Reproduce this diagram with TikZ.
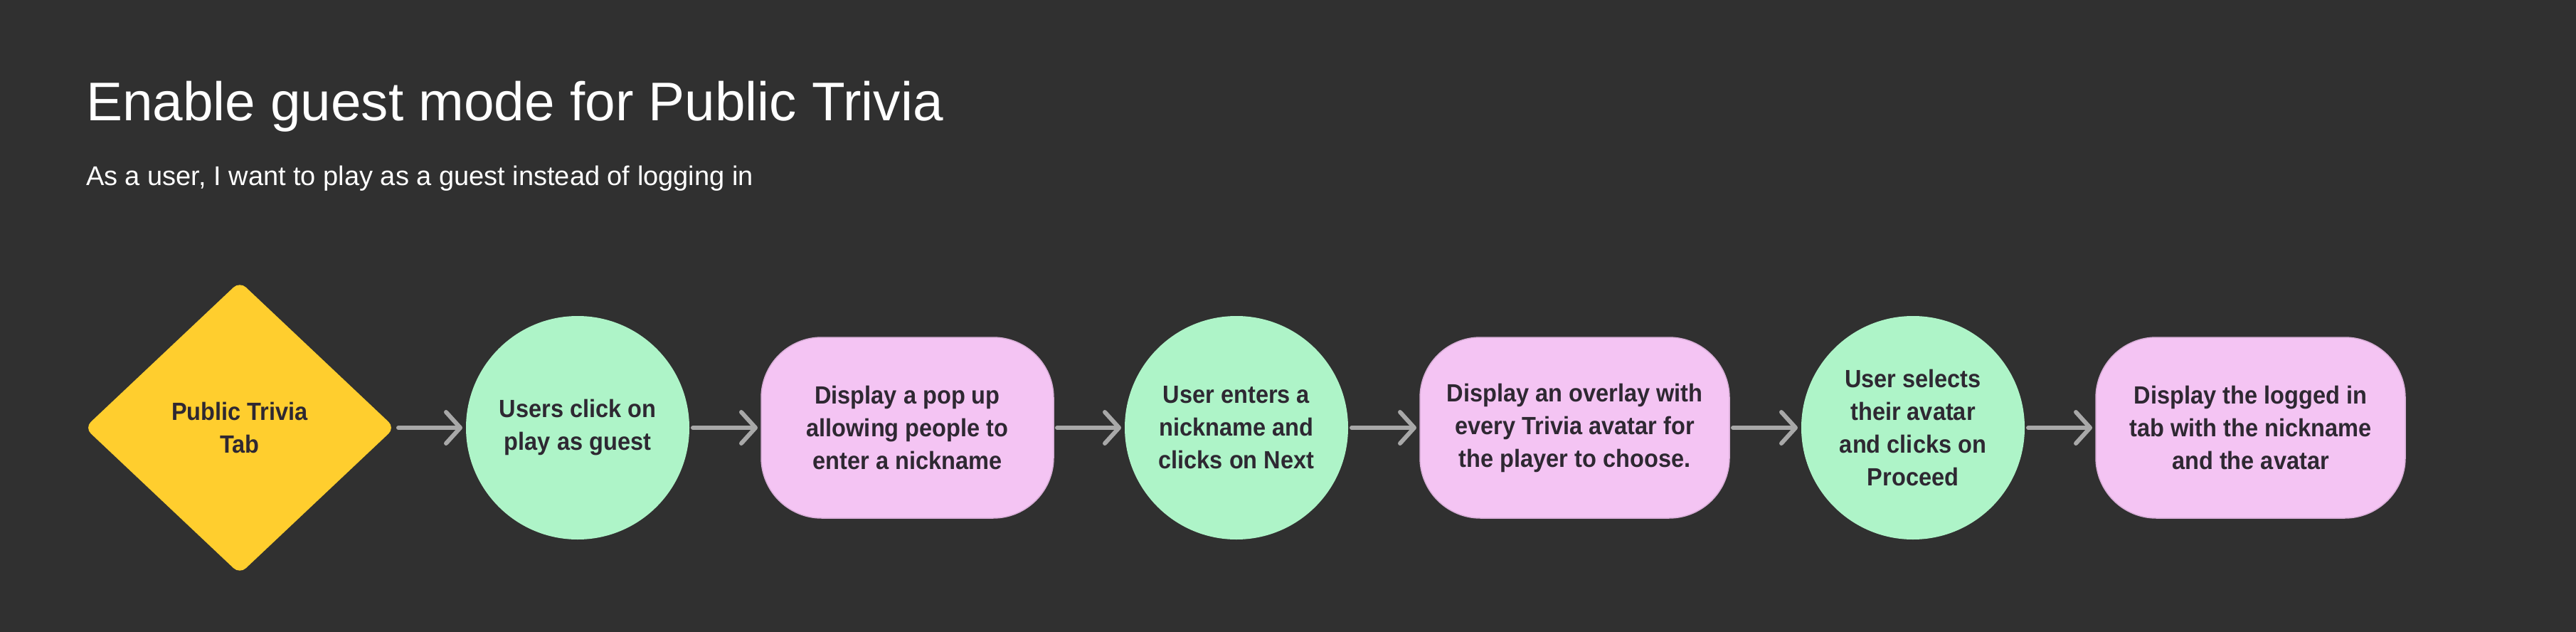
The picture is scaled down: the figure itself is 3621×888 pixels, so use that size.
\documentclass[tikz,border=0pt]{standalone}
\usepackage{fontspec}
\setmainfont{Liberation Sans}
\newfontfamily\nodefont{Liberation Sans}[UprightFont=*-Bold, FakeStretch=0.93]
\usetikzlibrary{shapes.geometric,arrows.meta}
\definecolor{bg}{HTML}{303030}
\definecolor{ink}{HTML}{2E2832}
\definecolor{yellowc}{HTML}{FFCE2E}
\definecolor{greenc}{HTML}{AEF4C8}
\definecolor{pinkc}{HTML}{F4C4F3}
\definecolor{pinkedge}{HTML}{D9AED8}
\definecolor{arrowc}{HTML}{A8A8A8}
\begin{document}
\begin{tikzpicture}[x=1pt,y=-1pt,
  every node/.style={inner sep=0pt, outer sep=0pt},
  txt/.style={font=\nodefont\fontsize{35}{46}\selectfont, text=ink, align=center},
  decision/.style={txt, diamond, fill=yellowc, minimum width=436pt, minimum height=411pt, rounded corners=12pt},
  action/.style={txt, circle, fill=greenc, minimum size=314pt},
  screen/.style={txt, rectangle, fill=pinkc, draw=pinkedge, line width=1.5pt, minimum height=254pt, rounded corners=85pt},
  flow/.style={draw=arrowc, line width=6pt, line cap=round, shorten <=5pt, shorten >=5pt, -{Straight Barb[length=20pt,width=44pt,round]}}
]
\fill[bg] (0,0) rectangle (3621,888);
\useasboundingbox (0,0) rectangle (3621,888);

\node[anchor=base west, font=\fontsize{76.5}{90}\selectfont, text=white] (title) at (121,169) {Enable guest mode for Public Trivia};
\node[anchor=base west, font=\fontsize{38}{46}\selectfont, text=white] (sub) at (121,260) {As a user, I want to play as a guest instead of logging in};

\node[decision] (d) at (337,601) {Public Trivia\\Tab};
\node[action] (c1) at (812,601) {Users click on\\play as guest};
\node[screen, minimum width=411pt] (b1) at (1275.5,601) {Display a pop up\\allowing people to\\enter a nickname};
\node[action] (c2) at (1738,601) {User enters a\\nickname and\\clicks on Next};
\node[screen, minimum width=435pt] (b2) at (2213.5,601) {Display an overlay with\\every Trivia avatar for\\the player to choose.};
\node[action] (c3) at (2689,601) {User selects\\their avatar\\and clicks on\\Proceed};
\node[screen, minimum width=435pt] (b3) at (3163.5,601) {Display the logged in\\tab with the nickname\\and the avatar};

\draw[flow] (d) -- (c1);
\draw[flow] (c1) -- (b1);
\draw[flow] (b1) -- (c2);
\draw[flow] (c2) -- (b2);
\draw[flow] (b2) -- (c3);
\draw[flow] (c3) -- (b3);
\end{tikzpicture}
\end{document}
